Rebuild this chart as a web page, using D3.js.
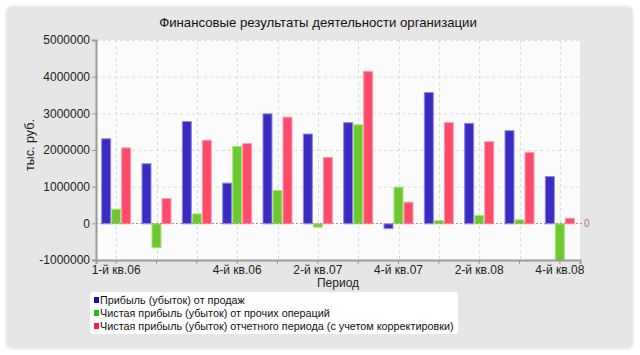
<!DOCTYPE html>
<html><head><meta charset="utf-8">
<script src="https://cdn.jsdelivr.net/npm/d3@7"></script>
<style>body{margin:0;background:#fff;}svg{display:block;font-family:"Liberation Sans",Arial,sans-serif;}</style>
</head><body><svg id="c" width="640" height="355"></svg>
<script>
const categories = ["1-й кв.06","2-й кв.06","3-й кв.06","4-й кв.06","1-й кв.07","2-й кв.07","3-й кв.07","4-й кв.07","1-й кв.08","2-й кв.08","3-й кв.08","4-й кв.08"];
const shownLabels = ["1-й кв.06","4-й кв.06","2-й кв.07","4-й кв.07","2-й кв.08","4-й кв.08"];
const seriesNames = ["Прибыль (убыток) от продаж","Чистая прибыль (убыток) от прочих операций","Чистая прибыль (убыток) отчетного периода (с учетом корректировки)"];
const sales = [2320000,1640000,2790000,1110000,3000000,2450000,2760000,-130000,3580000,2740000,2540000,1290000];
const other = [400000,-650000,270000,2110000,910000,-90000,2700000,1000000,90000,230000,110000,-1050000];
const net = [2070000,690000,2280000,2190000,2910000,1810000,4160000,590000,2760000,2240000,1950000,150000];
const yTicks = [-1000000,0,1000000,2000000,3000000,4000000,5000000];
const colors = ["#3a2cc2","#6bc92f","#ff4b6b"];
const strokes = ["#9088e6","#a8e47c","#ff9aac"];

const svg = d3.select("#c");
svg.append("rect").attr("x",5.5).attr("y",5.5).attr("width",628).attr("height",344).attr("rx",7)
  .attr("fill","#e6e6e6").attr("stroke","#f4f4f4").attr("stroke-width",2);

const L=96,R=580,T=40,B=260;
const x = d3.scaleBand().domain(categories).range([L,R]);
const xs = d3.scaleBand().domain([0,1,2]).range([0,30]);
const y = d3.scaleLinear().domain([-1000000,5000000]).range([B,T]);

svg.append("rect").attr("x",L).attr("y",T).attr("width",R-L).attr("height",B-T).attr("fill","#fbfbfb");

const g = svg.append("g");
g.selectAll(".hg").data(yTicks.filter(v=>v!==0&&v!==-1000000)).join("line")
  .attr("x1",L).attr("x2",R).attr("y1",d=>y(d)+0.5).attr("y2",d=>y(d)+0.5)
  .attr("stroke","#dcdcdc").attr("stroke-dasharray","3,3");
g.selectAll(".vg").data(categories).join("line")
  .attr("x1",d=>Math.round(x(d)+x.bandwidth()/2)+0.5).attr("x2",d=>Math.round(x(d)+x.bandwidth()/2)+0.5)
  .attr("y1",T).attr("y2",B).attr("stroke","#dcdcdc").attr("stroke-dasharray","3,3");

svg.append("clipPath").attr("id","pc").append("rect").attr("x",L).attr("y",T).attr("width",R-L).attr("height",B-T);
const bars = svg.append("g").attr("clip-path","url(#pc)");
[sales,other,net].forEach((vals,si)=>{
  bars.selectAll(".b"+si).data(vals).join("rect")
    .attr("x",(d,i)=>x(categories[i])+x.bandwidth()/2-15+xs(si)+0.5)
    .attr("width",xs.bandwidth()-1)
    .attr("y",d=>Math.min(y(d),y(0))+0.5)
    .attr("height",d=>Math.abs(y(d)-y(0)))
    .attr("fill",colors[si]).attr("stroke",strokes[si]).attr("stroke-width",1);
});

svg.append("line").attr("x1",L).attr("x2",R+3).attr("y1",Math.round(y(0))+0.5).attr("y2",Math.round(y(0))+0.5)
  .attr("stroke","#c08a8a").attr("stroke-dasharray","2,2");
svg.append("text").attr("x",R+4).attr("y",y(0)+4).attr("font-size",10).attr("fill","#b07080").text("0");

const ya = svg.append("g").attr("transform",`translate(${L},0)`)
  .call(d3.axisLeft(y).tickValues(yTicks).tickFormat(d=>String(d)).tickSize(4).tickPadding(2));
ya.select(".domain").attr("stroke","#9a9a9a").attr("stroke-width",2);
ya.selectAll(".tick line").attr("stroke","#9a9a9a");
ya.selectAll("text").attr("font-size",12).attr("fill","#222").attr("font-family","Liberation Sans");

const xa = svg.append("g").attr("transform",`translate(0,${B})`)
  .call(d3.axisBottom(x).tickSize(4).tickPadding(1).tickFormat(d=>shownLabels.includes(d)?d:""));
xa.select(".domain").attr("stroke","#9a9a9a").attr("stroke-width",2);
xa.selectAll(".tick line").attr("stroke","#9a9a9a");
xa.selectAll("text").attr("font-size",12).attr("fill","#222").attr("font-family","Liberation Sans");

svg.append("text").attr("x",(L+R)/2).attr("y",287).attr("text-anchor","middle").attr("font-size",12).attr("fill","#222").text("Период");
svg.append("text").attr("transform","translate(34,145) rotate(-90)").attr("text-anchor","middle").attr("font-size",12.5).attr("fill","#222").text("тыс. руб.");
svg.append("text").attr("x",318).attr("y",27).attr("text-anchor","middle").attr("font-size",13.2).attr("fill","#111").text("Финансовые результаты деятельности организации");

const lg = svg.append("g");
lg.append("rect").attr("x",90).attr("y",292).attr("width",368).attr("height",42).attr("rx",3).attr("fill","#fff");
seriesNames.forEach((n,i)=>{
  lg.append("rect").attr("x",94).attr("y",297+i*13).attr("width",5).attr("height",6).attr("fill",["#1010c0","#20c010","#ff2040"][i]);
  lg.append("text").attr("x",100).attr("y",304+i*13).attr("font-size",10.8).attr("fill","#111").text(n);
});
</script></body></html>
